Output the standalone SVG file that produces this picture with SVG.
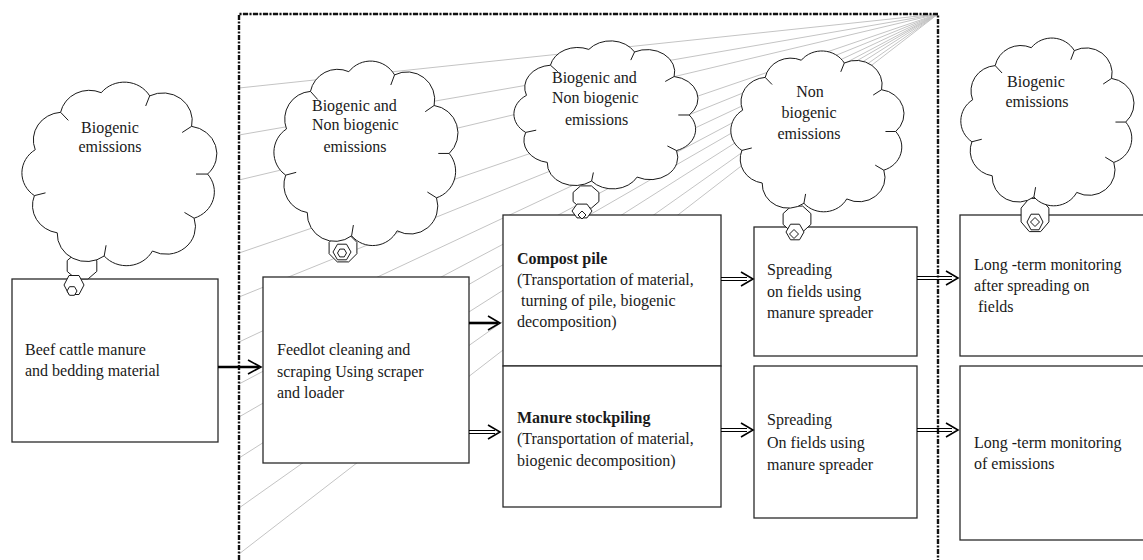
<svg xmlns="http://www.w3.org/2000/svg" xmlns:xlink="http://www.w3.org/1999/xlink" width="1143" height="560" viewBox="0 0 1143 560">
<style>
text{font-family:"Liberation Serif","Times New Roman",serif;font-size:16px;fill:#1a1a1a}
.b{font-weight:bold}
.mid{text-anchor:middle}
.ray{stroke:#c4c4c4;stroke-width:1;fill:none}
.border{stroke:#111;stroke-width:2.4;fill:none;stroke-dasharray:5 1.5 2 1.5}
.box{fill:#fff;stroke:#2a2a2a;stroke-width:1.3}
.shaft{stroke:#000;stroke-width:2.6;fill:none}
.dl{stroke:#000;stroke-width:1;fill:none}
.ah{stroke:#000;stroke-width:1.6;fill:none;stroke-linejoin:miter}
.cl{fill:#fff;stroke:#1a1a1a;stroke-width:1;vector-effect:non-scaling-stroke}
.tk{fill:none;stroke:#1a1a1a;stroke-width:1;vector-effect:non-scaling-stroke}
.tail{fill:#fff;stroke:#1a1a1a;stroke-width:1}
</style>
<defs>
<g id="cloud">
<path class="cl" d="M92 50 A14 14 0 0 1 85.6 72.3 A14 14 0 0 1 65.7 88.9 A14 14 0 0 1 42.7 91.4 A14 14 0 0 1 20.3 79.7 A14 14 0 0 1 9.4 60.9 A14 14 0 0 1 9.8 37.7 A14 14 0 0 1 21.9 18.8 A14 14 0 0 1 41.3 8.9 A14 14 0 0 1 64.4 10.5 A14 14 0 0 1 84.4 25.9 A14 14 0 0 1 92 50 Z"/>
<path class="tk" d="M92 50 L86.5 50 M85.6 72.3 L81 69.4 M42.7 91.4 L43.6 86 M9.4 60.9 L14.7 59.5 M21.9 18.8 L25.6 22.9 M64.4 10.5 L62.5 15.6 M84.4 25.9 L79.9 29"/>
</g>
</defs>

<g id="rays">
<path class="ray" d="M938 14 L239 14 M938 14 L239 88 M938 14 L239 135 M938 14 L239 180 M938 14 L239 253 M938 14 L239 297 M938 14 L239 342 M938 14 L239 384 M938 14 L239 417 M938 14 L239 458 M938 14 L239 508 M938 14 L239 554"/>
</g>
<g id="boundary">
<path class="border" d="M239 560 L239 14 L938 14 L938 560"/>
</g>

<g id="node-beef"><rect class="box" x="12" y="279" width="206" height="163"/>
<text x="25" y="355">Beef cattle manure</text><text x="25" y="376">and bedding material</text></g>
<g id="node-feedlot"><rect class="box" x="263" y="277" width="206" height="186"/>
<text x="277" y="355">Feedlot cleaning and</text><text x="277" y="377">scraping Using scraper</text><text x="277" y="398">and loader</text></g>
<g id="node-compost"><rect class="box" x="503" y="215" width="218" height="151"/>
<text class="b" x="517" y="264">Compost pile</text><text x="517" y="285">(Transportation of material,</text><text x="521" y="306">turning of pile, biogenic</text><text x="517" y="327">decomposition)</text></g>
<g id="node-stockpile"><rect class="box" x="503" y="366" width="218" height="141"/>
<text class="b" x="517" y="423">Manure stockpiling</text><text x="517" y="444">(Transportation of material,</text><text x="517" y="466">biogenic decomposition)</text></g>
<g id="node-spread1"><rect class="box" x="754" y="227" width="163" height="129"/>
<text x="767" y="275">Spreading</text><text x="767" y="297">on fields using</text><text x="767" y="318">manure spreader</text></g>
<g id="node-spread2"><rect class="box" x="754" y="366" width="163" height="152"/>
<text x="767" y="425">Spreading</text><text x="767" y="448">On fields using</text><text x="767" y="470">manure spreader</text></g>
<g id="node-monitor1"><rect class="box" x="960" y="215" width="200" height="141"/>
<text x="974" y="270">Long -term monitoring</text><text x="974" y="291">after spreading on</text><text x="978" y="312">fields</text></g>
<g id="node-monitor2"><rect class="box" x="960" y="366" width="200" height="174"/>
<text x="974" y="448">Long -term monitoring</text><text x="974" y="469">of emissions</text></g>

<g id="connectors">
<path class="shaft" d="M218 367 L259 367"/><polyline class="ah" points="248,360 261,367 248,374"/>
<path class="shaft" d="M469 323 L498 323"/><polyline class="ah" points="488,316 500,323 488,330"/>
<path class="dl" d="M469 430.5 L495 430.5 M469 433.5 L495 433.5"/><polyline class="ah" points="488,425 500,432 488,439"/>
<path class="dl" d="M721 277.5 L747 277.5 M721 280.5 L747 280.5"/><polyline class="ah" points="741,272 753,279 741,286"/>
<path class="dl" d="M721 428.5 L747 428.5 M721 431.5 L747 431.5"/><polyline class="ah" points="741,423 753,430 741,437"/>
<path class="dl" d="M917 276.5 L952 276.5 M917 279.5 L952 279.5"/><polyline class="ah" points="946,271 958,278 946,285"/>
<path class="dl" d="M917 428.5 L952 428.5 M917 431.5 L952 431.5"/><polyline class="ah" points="946,423 958,430 946,437"/>
</g>

<g id="cloud-1">
<polygon class="tail" points="96.8,271.4 88.1,278.9 75.9,278.9 67.2,271.4 67.2,260.6 75.9,253.1 88.1,253.1 96.8,260.6"/>
<polygon class="tail" points="84,285 79,294.5 69,294.5 64,285 69,275.5 79,275.5"/>
<polygon class="tail" points="77,291 74.5,295.3 69.5,295.3 67,291 69.5,286.7 74.5,286.7"/>
<use xlink:href="#cloud" transform="translate(14.7 75.1) scale(2.096 1.979)"/>
<text class="mid" x="110" y="133">Biogenic</text><text class="mid" x="110" y="152">emissions</text>
</g>
<g id="cloud-2">
<polygon class="tail" points="356.9,253.7 348.7,261.9 337.3,261.9 329.1,253.7 329.1,242.3 337.3,234.1 348.7,234.1 356.9,242.3"/>
<polygon class="tail" points="351,252 346.5,259.8 337.5,259.8 333,252 337.5,244.2 346.5,244.2"/>
<polygon class="tail" points="346.5,253 344.25,256.9 339.75,256.9 337.5,253 339.75,249.1 344.25,249.1"/>
<use xlink:href="#cloud" transform="translate(267.1 54) scale(1.979 1.989)"/>
<text x="312" y="111">Biogenic and</text><text x="312" y="130">Non biogenic</text><text class="mid" x="355" y="152">emissions</text>
</g>
<g id="cloud-3">
<polygon class="tail" points="598.9,201.6 591.4,208.1 580.6,208.1 573.1,201.6 573.1,192.4 580.6,185.9 591.4,185.9 598.9,192.4"/>
<polygon class="tail" points="592,211 587,217.9 577,217.9 572,211 577,204.1 587,204.1"/>
<polygon class="tail" points="586,215 582,219 578,215 582,211"/>
<use xlink:href="#cloud" transform="translate(507.1 35.2) scale(1.979 1.596)"/>
<text x="552" y="83">Biogenic and</text><text x="552" y="103">Non biogenic</text><text x="565" y="125">emissions</text>
</g>
<g id="cloud-4">
<polygon class="tail" points="810.9,224.4 802.7,231.9 791.3,231.9 783.1,224.4 783.1,213.6 791.3,206.1 802.7,206.1 810.9,213.6"/>
<polygon class="tail" points="804,232 799.5,239.8 790.5,239.8 786,232 790.5,224.2 799.5,224.2"/>
<polygon class="tail" points="798.5,234 794,238.5 789.5,234 794,229.5"/>
<use xlink:href="#cloud" transform="translate(724.4 44.8) scale(1.862 1.734)"/>
<text class="mid" x="810" y="97">Non</text><text class="mid" x="809" y="118">biogenic</text><text class="mid" x="809" y="139">emissions</text>
</g>
<g id="cloud-5">
<polygon class="tail" points="1048.9,221.9 1040.7,231.6 1029.3,231.6 1021.1,221.9 1021.1,208.1 1029.3,198.4 1040.7,198.4 1048.9,208.1"/>
<polygon class="tail" points="1043,222 1039,229.8 1031,229.8 1027,222 1031,214.2 1039,214.2"/>
<polygon class="tail" points="1039.5,222 1035,226.5 1030.5,222 1035,217.5"/>
<use xlink:href="#cloud" transform="translate(954.4 31.6) scale(1.862 1.809)"/>
<text class="mid" x="1036" y="87">Biogenic</text><text class="mid" x="1037" y="107">emissions</text>
</g>
</svg>
